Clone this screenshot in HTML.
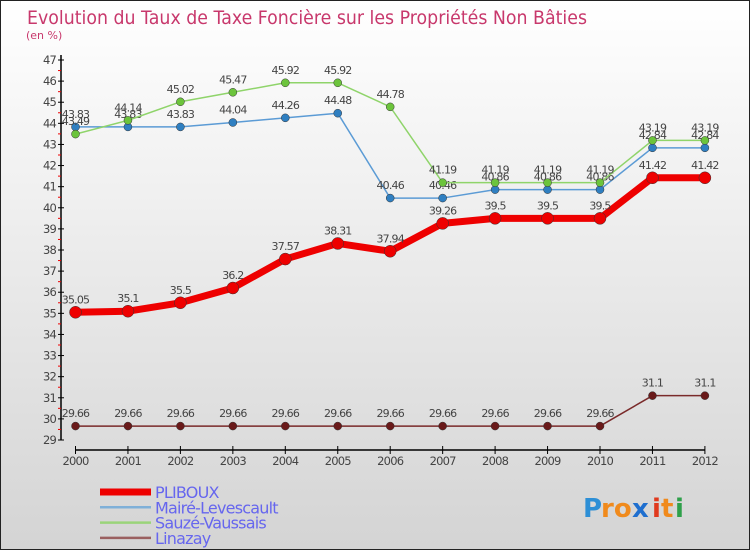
<!DOCTYPE html>
<html><head><meta charset="utf-8"><style>
body{margin:0;}
#wrap{position:relative;width:750px;height:550px;overflow:hidden;font-family:"DejaVu Sans","Liberation Sans",sans-serif;}
svg text{font-family:"DejaVu Sans","Liberation Sans",sans-serif;}
</style></head><body>
<div id="wrap">
<svg id="chart" width="750" height="550">
<defs><linearGradient id="bg" x1="0" y1="0" x2="0" y2="1"><stop offset="0" stop-color="#ffffff"/><stop offset="1" stop-color="#d4d4d4"/></linearGradient></defs>
<rect x="0.5" y="0.5" width="749" height="549" fill="url(#bg)" stroke="#222"/>
<text x="27" y="24" font-size="19" fill="#c8386c" textLength="560" lengthAdjust="spacingAndGlyphs">Evolution du Taux de Taxe Foncière sur les Propriétés Non Bâties</text>
<text x="26" y="39" font-size="11" fill="#c8386c">(en %)</text>
<g id="axes"></g><g id="series"></g><g id="legend"></g>
<g font-size="26" font-weight="bold">
<text x="583" y="517" fill="#2d8fd6">P</text><text x="601" y="517" fill="#f08a1c">ro</text><text x="632" y="517" fill="#1f6fcf">x</text><text x="652" y="517" fill="#e03a1e">i</text><text x="661" y="517" fill="#f08a1c">t</text><text x="675" y="517" fill="#2ea04a">i</text>
</g>
</svg></div>
<script>
const years=[2000,2001,2002,2003,2004,2005,2006,2007,2008,2009,2010,2011,2012];
const yTicks=[29,30,31,32,33,34,35,36,37,38,39,40,41,42,43,44,45,46,47];
const pliboux=[35.05,35.1,35.5,36.2,37.57,38.31,37.94,39.26,39.5,39.5,39.5,41.42,41.42];
const maire=[43.83,43.83,43.83,44.04,44.26,44.48,40.46,40.46,40.86,40.86,40.86,42.84,42.84];
const sauze=[43.49,44.14,45.02,45.47,45.92,45.92,44.78,41.19,41.19,41.19,41.19,43.19,43.19];
const linazay=[29.66,29.66,29.66,29.66,29.66,29.66,29.66,29.66,29.66,29.66,29.66,31.1,31.1];
const seriesNames=["PLIBOUX","Mairé-Levescault","Sauzé-Vaussais","Linazay"];
const NS="http://www.w3.org/2000/svg";
const x0=75.5,xStep=52.45,yMin=29,yMax=47,yTop=60,yBot=440;
function xs(i){return x0+i*xStep;}
function ys(v){return yBot-(v-yMin)/(yMax-yMin)*(yBot-yTop);}
function mk(tag,attrs,parent){const e=document.createElementNS(NS,tag);for(const k in attrs)e.setAttribute(k,attrs[k]);parent.appendChild(e);return e;}
const axes=document.getElementById('axes');
let l=mk('line',{x1:61,y1:yTop-5,x2:61,y2:yBot,stroke:'#000','stroke-width':1.5},axes);


yTicks.forEach(v=>{const y=ys(v);
 mk('line',{x1:58,y1:y,x2:64,y2:y,stroke:'#000'},axes);
 if(v<yMax){const m=mk('line',{x1:58,y1:ys(v+0.5),x2:61,y2:ys(v+0.5),stroke:'#e00'},axes);}
 const t=mk('text',{x:56,y:y+4,'font-size':11.5,fill:'#444','text-anchor':'end','letter-spacing':'-0.8'},axes);t.textContent=v;
 
 
});
l=mk('line',{x1:x0,y1:450,x2:xs(12),y2:450,stroke:'#000','stroke-width':1.5},axes);


years.forEach((yr,i)=>{const x=xs(i);
 mk('line',{x1:x,y1:446,x2:x,y2:454,stroke:'#000'},axes);
 const t=mk('text',{x:x,y:465,'font-size':11.5,fill:'#444','text-anchor':'middle','letter-spacing':'-0.8'},axes);t.textContent=yr;
 
 
});
const sg=document.getElementById('series');
function draw(data,name,color,pt,w,r){
 const g=mk('g',{},sg);
 
 
 const p=mk('polyline',{points:data.map((v,i)=>xs(i)+','+ys(v)).join(' '),fill:'none',stroke:color,'stroke-width':w,'stroke-linejoin':'round'},g);
 
 
 data.forEach((v,i)=>{
  const c=mk('circle',{cx:xs(i),cy:ys(v),r:r,fill:pt,stroke:'#333','stroke-width':0.5},g);
  
  
  const t=mk('text',{x:xs(i),y:ys(v)-9,'font-size':11,fill:'#444','text-anchor':'middle','letter-spacing':'-0.8'},g);
  t.textContent=v;
  
  
 });
}
draw(linazay,'linazay','#7a2a2a','#6a1a1a',1.5,4);
draw(maire,'maire-levescault','#5b9bd5','#2f7fc1',1.5,4);
draw(sauze,'sauze-vaussais','#8fd46a','#6cc43c',1.5,4);
draw(pliboux,'pliboux','#ee0000','#ee0000',7,6);
const lg=document.getElementById('legend');
const lc=['#ee0000','#7fb0d8','#9ad47a','#9a6060'],lw=[7,2.5,2.5,2.5];
seriesNames.forEach((n,i)=>{const y=492+i*15.3;
 const g=mk('g',{},lg);
 
 
 mk('line',{x1:100,y1:y,x2:151,y2:y,stroke:lc[i],'stroke-width':lw[i]},g);
 const t=mk('text',{x:155,y:y+6,'font-size':16,fill:'#6666ee','letter-spacing':'-0.8'},g);t.textContent=n;
});
</script>
</body></html>
